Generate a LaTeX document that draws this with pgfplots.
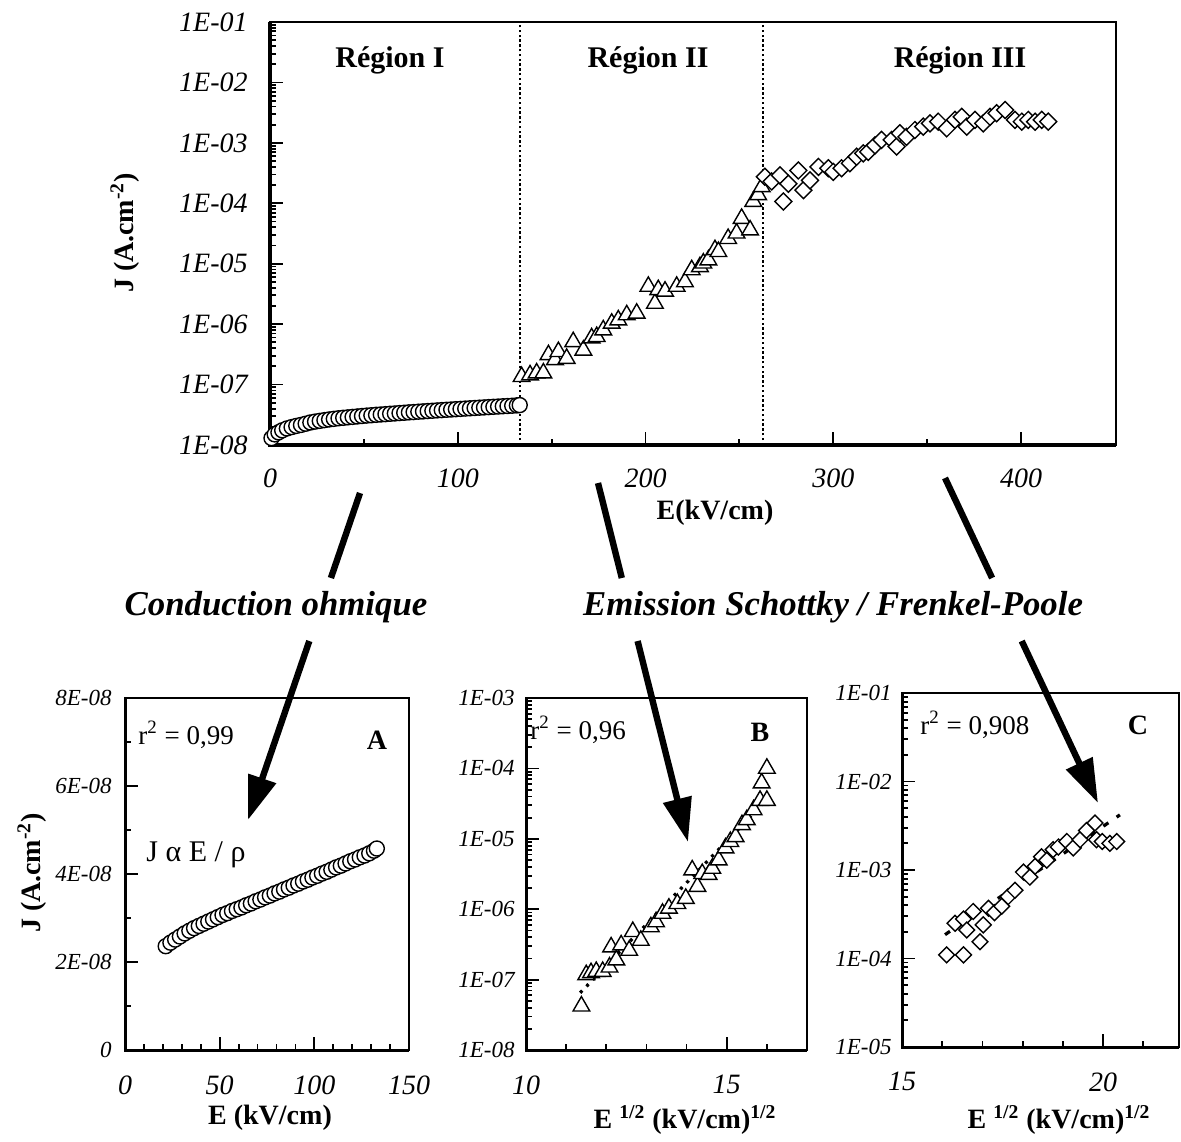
\documentclass[border=0pt]{standalone}
\usepackage{fontspec}
\setmainfont{Liberation Serif}
\usepackage{pgfplots}
\pgfplotsset{compat=1.18}
\usepackage{pgfplotstable}
\usetikzlibrary{arrows.meta}

\newcommand\tfont{\fontsize{14}{16}\selectfont\itshape}
\newcommand\sfont{\fontsize{11.5}{13}\selectfont\itshape}
\newcommand\lfont{\fontsize{14}{16}\selectfont\bfseries}
\newcommand\gfont{\fontsize{15}{17}\selectfont\bfseries}
\newcommand\rfont{\fontsize{13.5}{15}\selectfont}

% Region I (circles)
\pgfplotstableread{
E J
0.8 1.30e-8
2.5 1.50e-8
4.5 1.62e-8
6.5 1.75e-8
9 1.88e-8
11.5 1.98e-8
14 2.07e-8
16.5 2.15e-8
19 2.25e-8
21.5 2.36e-8
24 2.44e-8
26.5 2.51e-8
29 2.58e-8
31.5 2.65e-8
34 2.71e-8
36.5 2.77e-8
39 2.82e-8
41.5 2.87e-8
44 2.92e-8
46.5 2.97e-8
49 3.02e-8
51.5 3.07e-8
54 3.11e-8
56.5 3.16e-8
59 3.20e-8
61.5 3.24e-8
64 3.29e-8
66.5 3.33e-8
69 3.38e-8
71.5 3.42e-8
74 3.47e-8
76.5 3.51e-8
79 3.56e-8
81.5 3.60e-8
84 3.65e-8
86.5 3.69e-8
89 3.74e-8
91.5 3.78e-8
94 3.83e-8
96.5 3.87e-8
99 3.92e-8
101.5 3.96e-8
104 4.01e-8
106.5 4.05e-8
109 4.10e-8
111.5 4.15e-8
114 4.19e-8
116.5 4.24e-8
119 4.29e-8
121.5 4.33e-8
124 4.38e-8
126.5 4.42e-8
129 4.47e-8
131.5 4.53e-8
133 4.58e-8
}\circdata

% Region II (triangles)
\pgfplotstableread{
E J
134.0 1.35e-7
138.5 1.44e-7
142.0 1.55e-7
145.6 1.55e-7
148.3 3.1e-7
151.8 2.57e-7
153.6 3.5e-7
158.0 2.7e-7
161.5 5.1e-7
166.9 3.7e-7
171.3 5.9e-7
174.0 6.2e-7
177.5 8.0e-7
182.0 1.03e-6
185.5 1.17e-6
190.0 1.42e-6
195.3 1.51e-6
201.5 4.2e-6
205.0 2.2e-6
206.8 3.7e-6
210.4 3.5e-6
216.6 4.2e-6
221.0 5.0e-6
224.6 7.9e-6
229.0 8.9e-6
230.8 1.02e-5
233.5 1.15e-5
237.0 1.7e-5
238.8 1.58e-5
244.0 2.6e-5
248.5 3.2e-5
251.2 5.6e-5
255.7 3.6e-5
257.4 1.07e-4
260.0 1.38e-4
261.9 1.87e-4
}\tridata

% Region III (diamonds)
\pgfplotstableread{
E J
263.6 2.75e-4
267.2 2.3e-4
271.6 2.9e-4
273.4 1.07e-4
276.1 2.1e-4
281.4 3.5e-4
284.1 1.65e-4
287.6 2.4e-4
292.1 4.0e-4
297.4 3.8e-4
300.0 3.3e-4
304.4 3.8e-4
308.9 4.6e-4
312.4 5.9e-4
316.0 6.7e-4
318.6 7.1e-4
322.2 9.1e-4
325.7 1.12e-3
331.1 1.12e-3
333.7 8.7e-4
335.5 1.44e-3
339.0 1.26e-3
343.5 1.63e-3
347.9 1.86e-3
351.5 2.1e-3
355.9 2.24e-3
360.4 1.74e-3
364.8 2.4e-3
368.4 2.7e-3
371.1 1.86e-3
375.5 2.4e-3
379.9 2.1e-3
383.5 2.7e-3
387.0 3.1e-3
391.5 3.5e-3
396.8 2.4e-3
400.4 2.24e-3
403.9 2.4e-3
407.5 2.24e-3
411.0 2.4e-3
414.5 2.24e-3
}\diadata

% Panel B
\pgfplotstableread{
X J
11.38 4.2e-8
11.50 1.17e-7
11.62 1.25e-7
11.75 1.3e-7
11.91 1.3e-7
12.08 1.5e-7
12.12 2.9e-7
12.25 1.9e-7
12.37 3.1e-7
12.57 2.6e-7
12.66 4.8e-7
12.86 3.6e-7
13.11 5.6e-7
13.24 6.6e-7
13.40 8.7e-7
13.56 1.03e-6
13.77 1.2e-6
13.98 1.42e-6
14.14 3.6e-6
14.27 2.1e-6
14.39 3.2e-6
14.55 3.1e-6
14.64 3.8e-6
14.80 5.0e-6
14.97 7.4e-6
15.09 9.1e-6
15.22 1.07e-5
15.38 1.58e-5
15.50 1.86e-5
15.67 2.57e-5
15.83 3.5e-5
15.87 6.2e-5
16.00 3.5e-5
16.00 1.0e-4
}\bdata

% Panel C
\pgfplotstableread{
X J
16.11 1.1e-4
16.32 2.5e-4
16.53 1.1e-4
16.53 2.8e-4
16.61 2.1e-4
16.77 3.4e-4
16.94 1.55e-4
17.02 2.4e-4
17.15 3.7e-4
17.30 3.3e-4
17.48 3.9e-4
17.64 5.0e-4
17.81 5.9e-4
18.02 9.5e-4
18.18 8.3e-4
18.31 1.1e-3
18.47 1.41e-3
18.60 1.29e-3
18.76 1.7e-3
18.89 1.82e-3
19.10 2.1e-3
19.26 1.78e-3
19.43 2.2e-3
19.59 2.8e-3
19.80 3.4e-3
19.84 2.2e-3
19.98 2.1e-3
20.17 2.0e-3
20.34 2.1e-3
}\cdata

\pgfplotsset{
  panel/.style={
    scale only axis, anchor=south west, clip=false,
    axis line style={line width=1.0pt},
    every tick/.style={line width=0.9pt, black},
    major tick length=6.5pt, minor tick length=3pt,
    tick align=inside, xtick pos=bottom, ytick pos=left,
    scaled x ticks=false, scaled y ticks=false,
  },
}

\begin{document}
\begin{tikzpicture}[x=0.5pt,y=-0.5pt]
\useasboundingbox (0,0) rectangle (1181,1141);

% ---------- top panel ----------
\begin{axis}[panel,
  at={(135pt,-222.5pt)}, width=423pt, height=211.5pt,
  xmin=0, xmax=450.6, ymode=log, ymin=1e-8, ymax=1e-1,
  xtick={0,100,200,300,400}, xticklabels={0,100,200,300,400},
  minor xtick={50,150,250,350},
  ytick={1e-8,1e-7,1e-6,1e-5,1e-4,1e-3,1e-2,1e-1},
  yticklabels={1E-08,1E-07,1E-06,1E-05,1E-04,1E-03,1E-02,1E-01},
  minor ytick={2e-8,3e-8,4e-8,5e-8,6e-8,7e-8,8e-8,9e-8,2e-7,3e-7,4e-7,5e-7,6e-7,7e-7,8e-7,9e-7,2e-6,3e-6,4e-6,5e-6,6e-6,7e-6,8e-6,9e-6,2e-5,3e-5,4e-5,5e-5,6e-5,7e-5,8e-5,9e-5,2e-4,3e-4,4e-4,5e-4,6e-4,7e-4,8e-4,9e-4,2e-3,3e-3,4e-3,5e-3,6e-3,7e-3,8e-3,9e-3,2e-2,3e-2,4e-2,5e-2,6e-2,7e-2,8e-2,9e-2},
  xticklabel style={font=\tfont, inner sep=0pt, anchor=north, yshift=-11.5pt},
  yticklabel style={font=\tfont, inner sep=0pt, anchor=east, xshift=-11pt},
]
\addplot[black, line width=1pt, dash pattern=on 1.2pt off 1.2pt] coordinates {(133,1e-8) (133,1e-1)};
\addplot[black, line width=1pt, dash pattern=on 1.2pt off 1.2pt] coordinates {(262.6,1e-8) (262.6,1e-1)};
\addplot[only marks, mark=*, mark size=3.75pt, mark options={line width=0.7pt, draw=black, fill=white}] table[x=E,y=J]{\circdata};
\addplot[only marks, mark=triangle*, mark size=4.8pt, mark options={line width=0.7pt, draw=black, fill=white}] table[x=E,y=J]{\tridata};
\addplot[only marks, mark=square*, mark size=3pt, mark options={rotate=45, line width=0.7pt, draw=black, fill=white}] table[x=E,y=J]{\diadata};
\draw[line width=1.6pt] (rel axis cs:0,1) -- (rel axis cs:0,0) -- (rel axis cs:1,0);
\end{axis}

% ---------- panel A ----------
\begin{axis}[panel,
  at={(62.5pt,-525pt)}, width=142pt, height=176pt,
  xmin=0, xmax=150, ymin=0, ymax=8e-8,
  xtick={0,50,100,150}, xticklabels={0,50,100,150},
  minor xtick={10,20,30,40,60,70,80,90,110,120,130,140},
  ytick={0,2e-8,4e-8,6e-8,8e-8}, yticklabels={0,2E-08,4E-08,6E-08,8E-08},
  minor ytick={1e-8,3e-8,5e-8,7e-8},
  xticklabel style={font=\tfont, inner sep=0pt, anchor=north, yshift=-12.5pt},
  yticklabel style={font=\sfont, inner sep=0pt, anchor=east, xshift=-6.5pt},
]
\addplot[only marks, mark=*, mark size=3.75pt, mark options={line width=0.7pt, draw=black, fill=white}, restrict x to domain=20:140] table[x=E,y=J]{\circdata};
\addplot[black, line width=1.4pt, dash pattern=on 3.5pt off 3pt] coordinates {(22,2.40e-8) (131,4.51e-8)};
\draw[line width=1.5pt] (rel axis cs:0,1) -- (rel axis cs:0,0) -- (rel axis cs:1,0);
\end{axis}

% ---------- panel B ----------
\begin{axis}[panel,
  at={(263pt,-525pt)}, width=140.5pt, height=176pt,
  xmin=10, xmax=17, ymode=log, ymin=1e-8, ymax=1e-3,
  xtick={10,15}, xticklabels={10,15}, minor xtick={11,12,13,14,16},
  ytick={1e-8,1e-7,1e-6,1e-5,1e-4,1e-3},
  yticklabels={1E-08,1E-07,1E-06,1E-05,1E-04,1E-03},
  minor ytick={2e-8,3e-8,4e-8,5e-8,6e-8,7e-8,8e-8,9e-8,2e-7,3e-7,4e-7,5e-7,6e-7,7e-7,8e-7,9e-7,2e-6,3e-6,4e-6,5e-6,6e-6,7e-6,8e-6,9e-6,2e-5,3e-5,4e-5,5e-5,6e-5,7e-5,8e-5,9e-5,2e-4,3e-4,4e-4,5e-4,6e-4,7e-4,8e-4,9e-4},
  xticklabel style={font=\tfont, inner sep=0pt, anchor=north, yshift=-12.5pt},
  yticklabel style={font=\sfont, inner sep=0pt, anchor=east, xshift=-5.5pt},
]
\addplot[only marks, mark=triangle*, mark size=4.8pt, mark options={line width=0.7pt, draw=black, fill=white}] table[x=X,y=J]{\bdata};
\addplot[black, line width=1.6pt, dash pattern=on 1.5pt off 3pt] coordinates {(11.35,6.5e-8) (16.0,3.6e-5)};
\draw[line width=1.5pt] (rel axis cs:0,1) -- (rel axis cs:0,0) -- (rel axis cs:1,0);
\end{axis}

% ---------- panel C ----------
\begin{axis}[panel,
  at={(451pt,-523.5pt)}, width=138.7pt, height=177pt,
  xmin=15, xmax=21.9, ymode=log, ymin=1e-5, ymax=1e-1,
  xtick={15,20}, xticklabels={15,20}, minor xtick={16,17,18,19,21},
  ytick={1e-5,1e-4,1e-3,1e-2,1e-1},
  yticklabels={1E-05,1E-04,1E-03,1E-02,1E-01},
  minor ytick={2e-5,3e-5,4e-5,5e-5,6e-5,7e-5,8e-5,9e-5,2e-4,3e-4,4e-4,5e-4,6e-4,7e-4,8e-4,9e-4,2e-3,3e-3,4e-3,5e-3,6e-3,7e-3,8e-3,9e-3,2e-2,3e-2,4e-2,5e-2,6e-2,7e-2,8e-2,9e-2},
  xticklabel style={font=\tfont, inner sep=0pt, anchor=north, yshift=-12.5pt},
  yticklabel style={font=\sfont, inner sep=0pt, anchor=east, xshift=-5pt},
]
\addplot[only marks, mark=square*, mark size=2.8pt, mark options={rotate=45, line width=0.7pt, draw=black, fill=white}] table[x=X,y=J]{\cdata};
\addplot[black, line width=1.6pt, dash pattern=on 3pt off 5pt] coordinates {(16.07,1.86e-4) (20.42,4.2e-3)};
\draw[line width=1.5pt] (rel axis cs:0,1) -- (rel axis cs:0,0) -- (rel axis cs:1,0);
\end{axis}

% ---------- texts ----------
\node[font=\gfont] at (390,60) {Région I};
\node[font=\gfont] at (648,60) {Région II};
\node[font=\gfont] at (960,60) {Région III};
\node[font=\lfont] at (715,513) {E(kV/cm)};
\node[font=\lfont, rotate=90] at (125,233) {J (A.cm\textsuperscript{-2})};
\node[font=\lfont, rotate=90] at (32,873) {J (A.cm\textsuperscript{-2})};
\node[font=\lfont] at (270,1118) {E (kV/cm)};
\node[font=\lfont] at (685,1120) {E \textsuperscript{1/2} (kV/cm)\textsuperscript{1/2}};
\node[font=\lfont] at (1059,1120) {E \textsuperscript{1/2} (kV/cm)\textsuperscript{1/2}};

\node[font=\fontsize{17.4}{20}\selectfont\bfseries\itshape] at (276,607) {Conduction ohmique};
\node[font=\fontsize{17.4}{20}\selectfont\bfseries\itshape] at (833,607) {Emission Schottky / Frenkel-Poole};

\node[font=\rfont, anchor=west, inner sep=0pt] at (138,735) {r\textsuperscript{2} = 0,99};
\node[font=\lfont] at (377,740) {A};
\node[font=\fontsize{15}{17}\selectfont] at (196,855) {J α E / ρ};
\node[font=\rfont, anchor=west, inner sep=0pt] at (530,730) {r\textsuperscript{2} = 0,96};
\node[font=\lfont] at (760,732) {B};
\node[font=\rfont, anchor=west, inner sep=0pt] at (920,725) {r\textsuperscript{2} = 0,908};
\node[font=\lfont] at (1138,725) {C};

% ---------- arrows ----------
\draw[line width=3.2pt] (360,493) -- (330.9,578);
\draw[line width=3.2pt, -{Triangle[length=22pt,width=14pt]}] (309.3,641) -- (248,820);
\draw[line width=3.2pt] (598,483) -- (621.8,578);
\draw[line width=3.2pt, -{Triangle[length=22pt,width=14pt]}] (637.6,641) -- (688,842);
\draw[line width=3.2pt] (945,478) -- (992.1,578);
\draw[line width=3.2pt, -{Triangle[length=22pt,width=14pt]}] (1021.7,641) -- (1098,803);
\end{tikzpicture}
\end{document}
